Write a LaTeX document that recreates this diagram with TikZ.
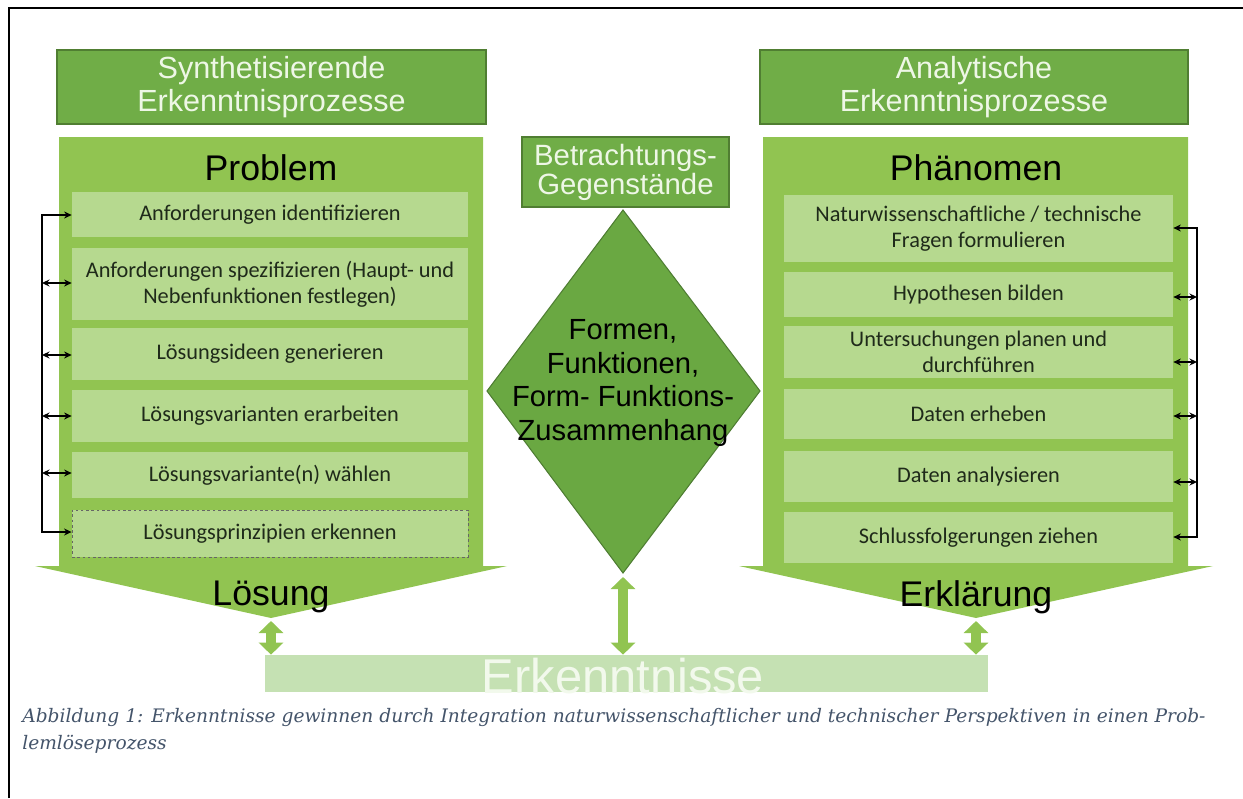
\documentclass[tikz,border=0pt]{standalone}
\usepackage{fontspec}
\setmainfont{Liberation Sans}
\newfontfamily\calfont{Carlito}
\newfontfamily\capfont{DejaVu Serif}
\usetikzlibrary{arrows.meta}

\definecolor{hdrgreen}{HTML}{70AD47}
\definecolor{hdrline}{HTML}{507E32}
\definecolor{hdrtext}{HTML}{EEF7E6}
\definecolor{bodygreen}{HTML}{91C451}
\definecolor{stepgreen}{HTML}{B6D98F}
\definecolor{stepdark}{HTML}{1F2A1A}
\definecolor{diagreen}{HTML}{6AA842}
\definecolor{dialine}{HTML}{4E7D32}
\definecolor{bargreen}{HTML}{C5E1B3}
\definecolor{bartext}{HTML}{F2F9EC}
\definecolor{captext}{HTML}{44546A}

\def\u{0.02cm}

\begin{document}
\begin{tikzpicture}[x=0.02cm,y=-0.02cm,
  hdr/.style={draw=hdrline, line width=0.7pt, fill=hdrgreen, text=hdrtext,
    align=center, inner sep=0pt, font=\fontsize{17.4}{18.7}\selectfont},
  bigword/.style={text=black, inner sep=0pt, font=\fontsize{20.3}{22}\selectfont},
  stepbox/.style={fill=stepgreen, text=stepdark, align=center, inner sep=0pt,
    font=\calfont\fontsize{12.7}{14.6}\selectfont},
  lstep/.style={stepbox, minimum width=396*\u},
  rstep/.style={stepbox, minimum width=389*\u},
  brk/.style={draw=black, line width=0.9pt, {Stealth[length=0.15cm,width=0.14cm]}-{Stealth[length=0.15cm,width=0.14cm]}},
  dbl/.style={draw=bodygreen, line width=10*\u,
    {Triangle[length=0.24cm,width=0.48cm]}-{Triangle[length=0.24cm,width=0.48cm]}},
]
\useasboundingbox (0,0) rectangle (1243,798);

% frame lines
\draw[line width=2.5*\u] (9,798) -- (9,8) -- (1243,8);

% headers
\node[hdr, minimum width=429*\u, minimum height=74*\u] (hl) at (271.5,87)
  {Synthetisierende\\Erkenntnisprozesse};
\node[hdr, minimum width=428*\u, minimum height=74*\u] (hr) at (974,87)
  {Analytische\\Erkenntnisprozesse};

% large process arrows
\fill[bodygreen] (59,137) -- (483,137) -- (483,566) -- (507,566) -- (271,618)
  -- (35,566) -- (59,566) -- cycle;
\fill[bodygreen] (763,137) -- (1188,137) -- (1188,566) -- (1213,566) -- (976,618)
  -- (739,566) -- (763,566) -- cycle;

\node[bigword] (prob) at (271,168) {Problem};
\node[bigword] (phaen) at (976,168) {Phänomen};
\node[bigword] (loes) at (271,597) {Lösung};
\node[bigword] (erkl) at (976,597) {Erklärung};

% synthesis steps
\node[lstep, minimum height=45*\u] (b1) at (270,214.5) {Anforderungen identifizieren};
\node[lstep, minimum height=72*\u] (b2) at (270,284) {Anforderungen spezifizieren (Haupt- und\\Nebenfunktionen festlegen)};
\node[lstep, minimum height=52*\u] (b3) at (270,354) {Lösungsideen generieren};
\node[lstep, minimum height=52*\u] (b4) at (270,416) {Lösungsvarianten erarbeiten};
\node[lstep, minimum height=46*\u] (b5) at (270,475) {Lösungsvariante(n) wählen};
\node[lstep, minimum height=47*\u, draw=black!60, line width=0.5pt,
  dash pattern=on 1.5pt off 1.5pt] (b6) at (270,533.5) {Lösungsprinzipien erkennen};

% analysis steps
\node[rstep, minimum height=67*\u] (r1) at (978.5,228.5) {Naturwissenschaftliche / technische\\Fragen formulieren};
\node[rstep, minimum height=45*\u] (r2) at (978.5,294.5) {Hypothesen bilden};
\node[rstep, minimum height=52*\u] (r3) at (978.5,352) {Untersuchungen planen und\\durchführen};
\node[rstep, minimum height=50*\u] (r4) at (978.5,414) {Daten erheben};
\node[rstep, minimum height=51*\u] (r5) at (978.5,476.5) {Daten analysieren};
\node[rstep, minimum height=51*\u] (r6) at (978.5,537.5) {Schlussfolgerungen ziehen};

% left feedback bracket
\coordinate (lt) at (42,215);
\coordinate (lb) at (42,532);
\coordinate (l2) at (42,283);
\coordinate (l3) at (42,355);
\coordinate (l4) at (42,416);
\coordinate (l5) at (42,473);
\draw[brk] (b1.west |- lt) -- (lt) -- (lb) -- (b6.west |- lb);
\foreach \k in {2,...,5} \draw[brk] (l\k) -- (b\k.west |- l\k);

% right feedback bracket
\coordinate (rt) at (1197,228);
\coordinate (rb) at (1197,537);
\coordinate (q2) at (1197,297);
\coordinate (q3) at (1197,362);
\coordinate (q4) at (1197,416);
\coordinate (q5) at (1197,482);
\draw[brk] (r1.east |- rt) -- (rt) -- (rb) -- (r6.east |- rb);
\foreach \k in {2,...,5} \draw[brk] (q\k) -- (r\k.east |- q\k);

% objects of consideration
\node[hdr, minimum width=207*\u, minimum height=70*\u,
  font=\fontsize{16.7}{16.5}\selectfont] (betr) at (625.5,172) {Betrachtungs-\\Gegenstände};
\coordinate (dtop) at (623,210);
\coordinate (dleft) at (487,391);
\coordinate (dright) at (760,391);
\coordinate (dbot) at (623,573);
\filldraw[fill=diagreen, draw=dialine, line width=0.6pt] (dtop) -- (dright) -- (dbot) -- (dleft) -- cycle;
\node[align=center, text=black, inner sep=0pt, font=\fontsize{16.6}{19}\selectfont]
  (dtext) at (623,383) {Formen,\\Funktionen,\\Form- Funktions-\\Zusammenhang};

% insights bar
\node[fill=bargreen, minimum width=723*\u, minimum height=37*\u, inner sep=0pt]
  (bar) at (626.5,673.5) {};
\node[anchor=base, text=bartext, inner sep=0pt, font=\fontsize{27.8}{28}\selectfont]
  (bartxt) at (623,693) {Erkenntnisse};

% links to the insights bar
\coordinate (ltip) at (271,621);
\coordinate (rtip) at (976,621);
\draw[dbl] (ltip) -- (ltip |- bar.north);
\draw[dbl, shorten <=4*\u] (dbot) -- (dbot |- bar.north);
\draw[dbl] (rtip) -- (rtip |- bar.north);

% caption
\begin{scope}[every node/.style={anchor=base west, text=captext, inner sep=0pt,
  font=\capfont\itshape\fontsize{10.6}{14.5}\selectfont}]
\node (cap1) at (22,722) {Abbildung 1: Erkenntnisse gewinnen durch Integration naturwissenschaftlicher und technischer Perspektiven in einen Prob-};
\node (cap2) at (22,749) {lemlöseprozess};
\end{scope}
\end{tikzpicture}
\end{document}
